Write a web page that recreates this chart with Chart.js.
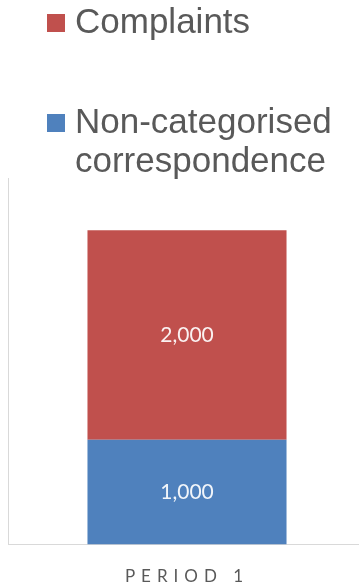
<!DOCTYPE html>
<html>
<head>
<meta charset="utf-8">
<script src="https://cdn.jsdelivr.net/npm/chart.js@4"></script>
<style>
  html, body { margin: 0; padding: 0; background: #fff; overflow: hidden; }
  #wrap { position: relative; width: 366px; height: 586px; }
  #chart { display: block; }
  #legend {
    position: absolute; left: 47px; top: 1px; right: 0;
    font-family: "Liberation Sans", Arial, sans-serif;
    font-size: 35px; line-height: 39px; color: #595959;
  }
  .item { position: relative; padding-left: 28px; width: 282px; }
  .item + .item { margin-top: 61px; }
  .swatch { position: absolute; left: 0; top: 13px; width: 18px; height: 18px; }
</style>
</head>
<body>
<div id="wrap">
  <canvas id="chart" width="366" height="586"></canvas>
  <div id="legend"></div>
</div>
<script>
const categories = ["PERIOD 1"];
const seriesNames = ["Non-categorised correspondence", "Complaints"];
const nonCategorised = [1000];
const complaints = [2000];
const seriesColours = ["#4F81BD", "#C0504D"];

// value labels in the middle of each bar segment
const segmentLabels = {
  id: "segmentLabels",
  afterDatasetsDraw(chart) {
    const ctx = chart.ctx;
    ctx.save();
    ctx.font = "21px Lato, 'Open Sans', sans-serif";
    ctx.fillStyle = "rgba(255,255,255,0.92)";
    ctx.textAlign = "center";
    ctx.textBaseline = "middle";
    chart.data.datasets.forEach((ds, i) => {
      chart.getDatasetMeta(i).data.forEach((bar, j) => {
        const p = bar.getProps(["x", "y", "base"], true);
        ctx.fillText(ds.data[j].toLocaleString("en-US"), p.x, (p.y + p.base) / 2);
      });
    });
    ctx.restore();
  },
};

// spaced-out capitals for the category axis
const tickSpacing = {
  id: "tickSpacing",
  beforeDraw(chart) {
    chart.ctx.letterSpacing = "6px";
  },
  beforeDatasetsDraw(chart) {
    chart.ctx.letterSpacing = "0px";
  },
};

const chart = new Chart(document.getElementById("chart"), {
  type: "bar",
  data: {
    labels: categories,
    datasets: [
      { label: seriesNames[0], data: nonCategorised, backgroundColor: seriesColours[0] },
      { label: seriesNames[1], data: complaints, backgroundColor: seriesColours[1] },
    ],
  },
  options: {
    responsive: false,
    animation: false,
    // the x axis box reserves more room than the label needs, so pull it down
    layout: { padding: { top: 178, left: 8, right: 0, bottom: -23 } },
    datasets: { bar: { barPercentage: 0.556, categoryPercentage: 1 } },
    plugins: { legend: { display: false }, tooltip: { enabled: false } },
    scales: {
      x: {
        stacked: true,
        grid: { display: false, drawTicks: false },
        border: { color: "#d9d9d9", width: 1 },
        ticks: {
          padding: 22,
          color: "#595959",
          font: { family: "Lato, 'Open Sans', sans-serif", size: 17 },
        },
      },
      y: {
        stacked: true,
        min: 0,
        max: 3500,
        grid: { display: false, drawTicks: false },
        border: { color: "#d9d9d9", width: 1 },
        ticks: { display: false },
      },
    },
  },
  plugins: [segmentLabels, tickSpacing],
});

// legend lists the top segment first
const legend = document.getElementById("legend");
chart.data.datasets.slice().reverse().forEach((ds) => {
  const item = document.createElement("div");
  item.className = "item";
  const swatch = document.createElement("span");
  swatch.className = "swatch";
  swatch.style.background = ds.backgroundColor;
  item.appendChild(swatch);
  item.appendChild(document.createTextNode(ds.label));
  legend.appendChild(item);
});
</script>
</body>
</html>
